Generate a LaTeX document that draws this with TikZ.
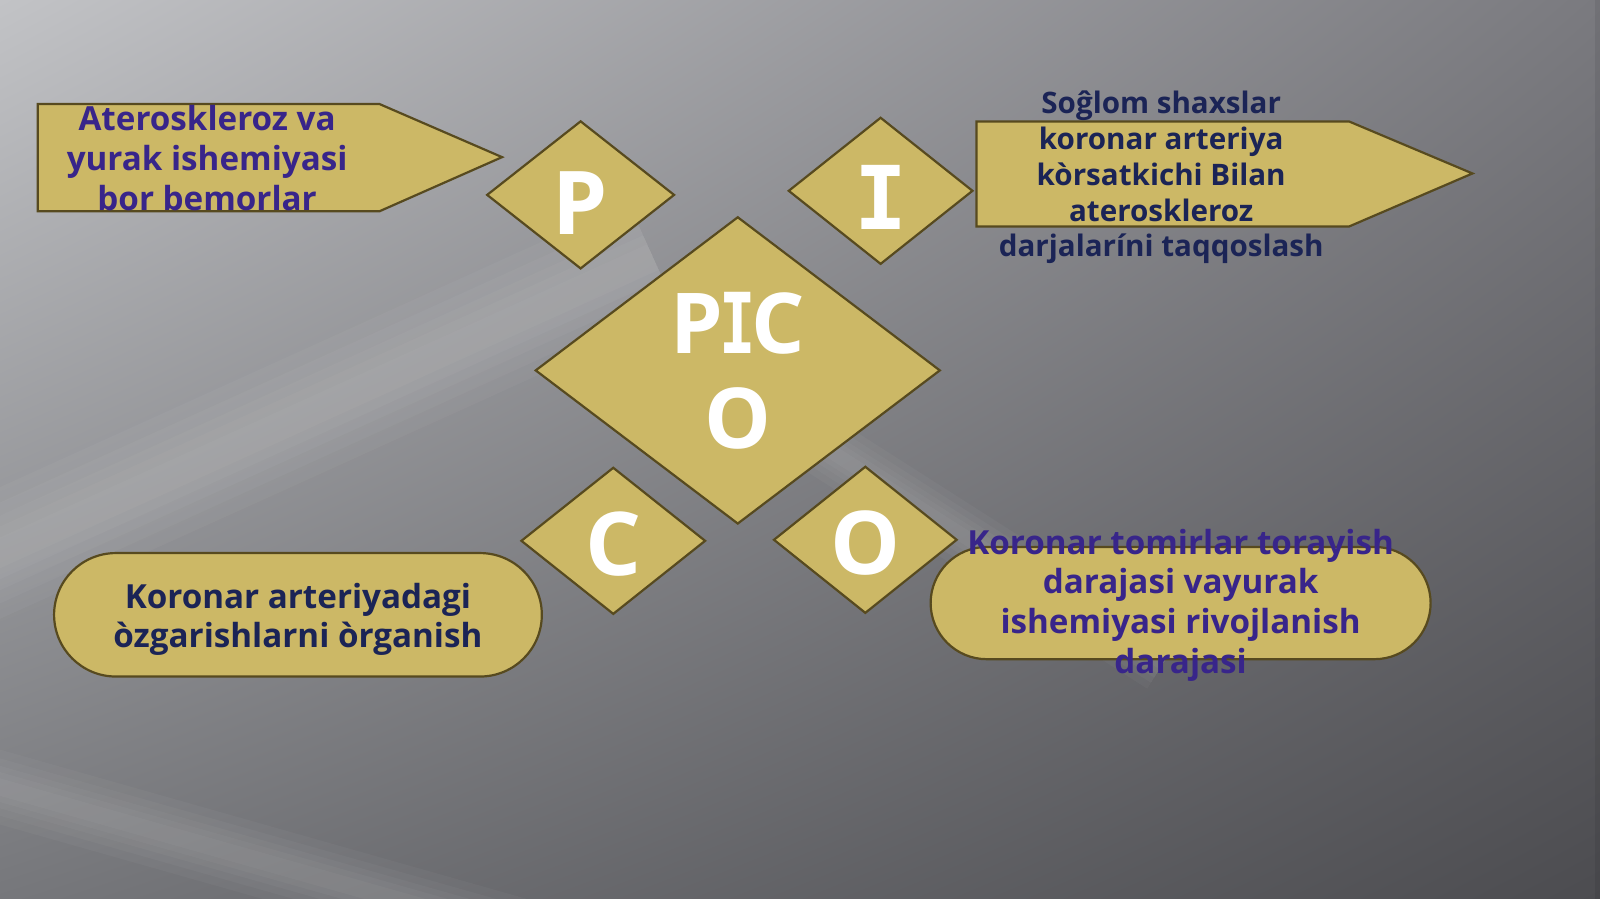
\documentclass[tikz,border=0pt]{standalone}
\usepackage{fontspec}
\setmainfont{Open Sans}
\newfontfamily\slabfont{DejaVu Sans Mono}
\usetikzlibrary{shapes.geometric,shadings}
\definecolor{goldfill}{HTML}{CCB866}
\definecolor{goldedge}{HTML}{574A1F}
\definecolor{navytext}{HTML}{1B2456}
\definecolor{violettext}{HTML}{38258A}
\definecolor{bgul}{HTML}{C2C3C6}
\definecolor{bgur}{HTML}{7A7A7F}
\definecolor{bgll}{HTML}{76777B}
\definecolor{bglr}{HTML}{4C4C50}
\newcommand{\slabI}{{\slabfont\bfseries I}}
\newcommand{\thinI}{\kern-2pt\scalebox{.72}[1]{\slabI}\kern-2pt}
\newcommand{\lowered}[2]{\raisebox{-#1}[\height][0pt]{#2}}

\begin{document}
\begin{tikzpicture}[x=0.5102pt,y=-0.5102pt,
	gold/.style={fill=goldfill, draw=goldedge, line width=1.1pt},
	letterbox/.style={gold, diamond, inner sep=0pt, text=white, align=center,
		font=\fontsize{44}{47.4}\selectfont\bfseries},
	blurb/.style={align=center, inner sep=0pt, font=\fontsize{16.6}{19.9}\selectfont\bfseries},
	streak/.style={white, opacity=.03}]
	% background
	\shade[upper left=bgul, upper right=bgur, lower left=bgll, lower right=bglr] (0,0) rectangle (1568,881);
	\begin{scope}
		\clip (0,0) rectangle (1568,881);
		\foreach \w in {60,46,34,24,14} {
			\draw[streak, line width=\w pt] (-40,560) -- (640,252);
			\draw[streak, line width=.5*\w pt] (740,395) -- (1140,650);
			\draw[streak, line width=.6*\w pt] (-40,760) -- (560,930);
		}
		\fill[black, opacity=.07] (1563,0) rectangle (1568,881);
	\end{scope}
	% boxes
	\draw[gold] (37,102) -- (372,102) -- (492,154) -- (372,207) -- (37,207) -- cycle;
	\draw[gold] (957,119) -- (1322,119) -- (1443,170) -- (1322,222) -- (957,222) -- cycle;
	\draw[gold, rounded corners=30.9pt] (53,542) rectangle (531,663);
	\draw[gold, rounded corners=28.1pt] (912,536) rectangle (1402,646);
	% diamonds
	\node[letterbox, minimum width=93.9pt, minimum height=74pt] (P) at (569,191) {\lowered{4pt}{P}};
	\node[letterbox, minimum width=92.3pt, minimum height=73.5pt] (I) at (863,187) {\lowered{3.5pt}{\slabI}};
	\node[letterbox, minimum width=202.5pt, minimum height=153.6pt,
		font=\fontsize{42}{47.4}\selectfont\bfseries] (PICO) at (723,363) {P\thinI C\\O};
	\node[letterbox, minimum width=92.3pt, minimum height=73.5pt] (C) at (601,530) {\lowered{1.5pt}{C}};
	\node[letterbox, minimum width=91.8pt, minimum height=73.5pt] (O) at (848,529) {\lowered{1.5pt}{O}};
	% texts
	\node[blurb, text=violettext] (population) at (203,155) {Ateroskleroz va\\yurak ishemiyasi\\bor bemorlar};
	\node[blurb, text=navytext, font=\fontsize{14.8}{17.9}\selectfont\bfseries] (intervention) at (1138,174)
		{Soĝlom shaxslar\\koronar arteriya\\kòrsatkichi Bilan\\ateroskleroz\\darjalaríni taqqoslash};
	\node[blurb, text=navytext] (comparison) at (292,607) {Koronar arteriyadagi\\òzgarishlarni òrganish};
	\node[blurb, text=violettext] (outcome) at (1157,593)
		{Koronar tomirlar torayish\\darajasi vayurak\\ishemiyasi rivojlanish\\darajasi};
\end{tikzpicture}
\end{document}
